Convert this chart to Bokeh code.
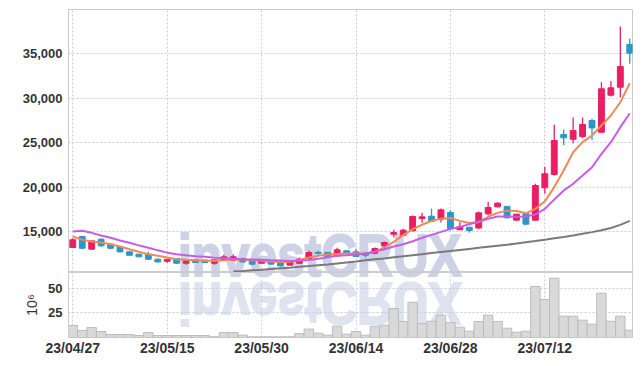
from bokeh.plotting import figure
from bokeh.models import ColumnDataSource, FixedTicker, NumeralTickFormatter, Range1d, Div
from bokeh.layouts import column
from bokeh.embed import file_html
from bokeh.resources import INLINE

dates = ["23/04/27", "23/04/28", "23/05/02", "23/05/03", "23/05/04", "23/05/08", "23/05/09", "23/05/10",
         "23/05/11", "23/05/12", "23/05/15", "23/05/16", "23/05/17", "23/05/18", "23/05/19", "23/05/22",
         "23/05/23", "23/05/24", "23/05/25", "23/05/26", "23/05/30", "23/05/31", "23/06/01", "23/06/02",
         "23/06/05", "23/06/07", "23/06/08", "23/06/09", "23/06/12", "23/06/13", "23/06/14", "23/06/15",
         "23/06/16", "23/06/19", "23/06/20", "23/06/21", "23/06/22", "23/06/23", "23/06/26", "23/06/27",
         "23/06/28", "23/06/29", "23/06/30", "23/07/03", "23/07/04", "23/07/05", "23/07/06", "23/07/07",
         "23/07/10", "23/07/11", "23/07/12", "23/07/13", "23/07/14", "23/07/17", "23/07/18", "23/07/19",
         "23/07/20", "23/07/21", "23/07/24", "23/07/25"]

opens = [13200, 14440, 13010, 14130, 13570, 13310, 12710, 12450, 12450, 11880,
         11650, 11960, 11430, 11810, 11770, 11430, 11770, 11770, 11960, 11700,
         11430, 11700, 11510, 11210, 11430, 11960, 12670, 12640, 12265, 12830,
         12710, 12520, 12560, 13390, 14700, 14590, 15080, 16460, 16720, 16350,
         17150, 15200, 15480, 15400, 16990, 17780, 17830, 16280, 17020, 16280,
         19920, 21420, 25920, 25390, 25700, 27500, 26180, 30350, 31250, 36060]
highs = [14250, 14520, 14000, 14210, 13650, 13400, 12800, 12500, 12710, 11950,
         11900, 12000, 11750, 11850, 11850, 11850, 12380, 12400, 12050, 11750,
         11800, 11750, 11550, 11550, 12070, 12830, 12830, 12680, 13160, 12880,
         13050, 12710, 13200, 13870, 15190, 15300, 16800, 17100, 17570, 17590,
         17400, 16050, 15500, 17250, 18350, 18300, 17850, 16990, 17060, 20370,
         22300, 27010, 26480, 27830, 27830, 27690, 31810, 31960, 38080, 36700]
lows = [13150, 13010, 12950, 13280, 13000, 12650, 12280, 12100, 11800, 11520,
        11480, 11380, 11250, 11470, 11470, 11250, 11700, 11700, 11520, 11200,
        11400, 11280, 11030, 11180, 11400, 11930, 12260, 12150, 12200, 12520,
        12150, 12080, 12450, 13010, 14320, 14550, 15030, 16000, 16100, 16010,
        15150, 15150, 14900, 15300, 16840, 17700, 16500, 16200, 15700, 16200,
        19250, 21270, 24730, 24950, 25500, 25310, 26100, 30200, 30120, 33880]
closes = [14070, 13120, 13950, 13390, 13120, 12710, 12330, 12150, 11880, 11580,
          11880, 11430, 11700, 11510, 11510, 11810, 12150, 12150, 11580, 11320,
          11770, 11320, 11130, 11510, 11880, 12640, 12520, 12190, 12940, 12560,
          12190, 12330, 13085, 13760, 14890, 15150, 16690, 16650, 16150, 17440,
          15330, 15520, 15110, 17100, 17700, 18190, 16540, 16950, 15830, 20180,
          21500, 25250, 25550, 26370, 27050, 26670, 31070, 31180, 33580, 35080]

volumes = [12.2, 7.1, 10.2, 6.1, 3.0, 3.0, 3.0, 2.0, 5.0, 2.0,
           2.0, 2.0, 2.0, 2.0, 2.0, 0.7, 5.0, 5.0, 2.4, 0.7,
           0.7, 0.7, 0.7, 0.7, 4.0, 8.5, 4.4, 2.4, 11.5, 3.4,
           6.1, 2.4, 11.5, 12.5, 29.4, 16.2, 35.8, 14.2, 16.5, 22.6,
           15.2, 10.5, 6.4, 16.2, 22.6, 16.2, 9.4, 5.3, 6.4, 51.8,
           38.6, 60.2, 21.6, 21.6, 17.6, 13.5, 45.0, 16.5, 21.6, 7.4]

ma_short = [14437, 14065, 13874, 13760, 13570, 13311, 13010, 12714, 12450, 12260,
            12072, 11880, 11810, 11770, 11700, 11720, 11770, 11880, 11850, 11770,
            11700, 11620, 11580, 11600, 11800, 12070, 12260, 12420, 12480, 12520,
            12520, 12520, 12710, 13200, 13840, 14590, 15270, 15760, 16200, 16450,
            16520, 16200, 15950, 16050, 16660, 17100, 17350, 17320, 17050, 17550,
            18400, 20000, 21870, 23930, 25060, 25810, 26940, 28060, 29560, 31700]
ma_mid = [15000, 15080, 14850, 14550, 14290, 13990, 13740, 13440, 13180, 12880,
          12620, 12430, 12320, 12210, 12150, 12060, 11990, 11920, 11880, 11850,
          11810, 11770, 11730, 11680, 11700, 11800, 11920, 12100, 12260, 12330,
          12410, 12520, 12710, 13010, 13310, 13570, 13910, 14290, 14620, 14960,
          15270, 15520, 15820, 16130, 16420, 16690, 16690, 16650, 16690, 16915,
          17550, 18600, 19620, 20370, 21310, 22240, 23750, 25060, 26750, 28320]
ma_long_start = 17
ma_long = [10500, 10560, 10640, 10700, 10780, 10850, 10930, 11030, 11110, 11200,
           11290, 11400, 11510, 11620, 11760, 11870, 11960, 12100, 12210, 12330,
           12450, 12570, 12690, 12800, 12920, 13040, 13160, 13280, 13400, 13510,
           13640, 13780, 13920, 14070, 14230, 14390, 14560, 14740, 14930, 15140,
           15400, 15750, 16200]

tick_idx = [0, 10, 20, 30, 40, 50]
price_ticks = [15000, 20000, 25000, 30000, 35000]
vol_ticks = [25, 50]
watermark = "investCRUX"

UP = "#e91e63"
DOWN = "#2e95c9"
FONT = "Liberation Sans"
GRID = "#c9ccdc"
TXT = "#333333"

xs = list(range(len(dates)))
x_range = Range1d(-0.456, 59.29)

p = figure(frame_width=564, frame_height=263, x_range=x_range, y_range=Range1d(10385, 40000),
           output_backend="svg", toolbar_location=None, x_axis_location=None,
           min_border_left=68, min_border_right=8, min_border_top=9, min_border_bottom=0)
p.background_fill_alpha = 0
p.border_fill_alpha = 0
p.outline_line_color = "#cccccc"
p.yaxis.ticker = FixedTicker(ticks=price_ticks)
p.yaxis.formatter = NumeralTickFormatter(format="0,0")
p.yaxis.axis_line_color = "#cccccc"
p.yaxis.major_tick_line_color = None
p.yaxis.major_tick_out = 0
p.yaxis.major_tick_in = 0
p.yaxis.minor_tick_line_color = None
p.yaxis.major_label_text_font = FONT
p.yaxis.major_label_text_font_style = "bold"
p.yaxis.major_label_text_font_size = "13px"
p.yaxis.major_label_text_color = TXT
p.yaxis.major_label_standoff = 6
p.xgrid.ticker = FixedTicker(ticks=tick_idx)
for g in (p.xgrid, p.ygrid):
    g.grid_line_color = GRID
    g.grid_line_dash = "2 2"

up = [i for i in xs if closes[i] >= opens[i]]
dn = [i for i in xs if closes[i] < opens[i]]
for idx, col in ((up, UP), (dn, DOWN)):
    src = ColumnDataSource(dict(
        x=[xs[i] for i in idx],
        high=[highs[i] for i in idx],
        low=[lows[i] for i in idx],
        top=[max(opens[i], closes[i]) for i in idx],
        bottom=[min(opens[i], closes[i]) for i in idx],
    ))
    p.segment(x0="x", y0="low", x1="x", y1="high", source=src, line_color=col, line_width=1.3)
    p.vbar(x="x", width=0.62, top="top", bottom="bottom", source=src,
           fill_color=col, line_color=col, line_width=1)

p.line(xs, ma_short, line_color="#ef8a55", line_width=2)
p.line(xs, ma_mid, line_color="#c65ce8", line_width=2)
p.line(xs[ma_long_start:], ma_long, line_color="#7a7a7a", line_width=2)

v = figure(frame_width=564, frame_height=65, x_range=x_range, y_range=Range1d(0, 66),
           output_backend="svg", toolbar_location=None,
           min_border_left=68, min_border_right=8, min_border_top=0)
v.background_fill_alpha = 0
v.border_fill_alpha = 0
v.outline_line_color = "#cccccc"
v.vbar(x=xs, top=volumes, width=1.0, fill_color="#d9d9d9", line_color="#bcbcbc", line_width=1)
v.xaxis.ticker = FixedTicker(ticks=tick_idx)
v.xaxis.major_label_overrides = {i: dates[i] for i in tick_idx}
v.yaxis.ticker = FixedTicker(ticks=vol_ticks)
for ax in (v.xaxis, v.yaxis):
    ax.axis_line_color = None
    ax.major_tick_line_color = None
    ax.major_tick_out = 0
    ax.major_tick_in = 0
    ax.minor_tick_line_color = None
    ax.major_label_text_font = FONT
    ax.major_label_text_font_style = "bold"
    ax.major_label_text_color = TXT
v.yaxis.axis_line_color = "#cccccc"
v.xaxis.major_label_text_font_size = "14px"
v.xaxis.major_label_standoff = 2
v.yaxis.major_label_text_font_size = "13px"
v.yaxis.major_label_standoff = 6
v.yaxis.axis_label = "10\u2076"
v.yaxis.axis_label_text_font = FONT
v.yaxis.axis_label_text_font_style = "normal"
v.yaxis.axis_label_text_font_size = "14px"
v.yaxis.axis_label_text_color = TXT
v.yaxis.axis_label_standoff = 5
v.xgrid.ticker = FixedTicker(ticks=tick_idx)
for g in (v.xgrid, v.ygrid):
    g.grid_line_color = GRID
    g.grid_line_dash = "2 2"

WM_STYLE = ("font-family:'Liberation Sans';font-weight:bold;font-size:59px;line-height:44px;"
            "white-space:nowrap;transform-origin:0 50%;")
mark = Div(
    text=('<div style="%scolor:#cdd2e6;-webkit-text-stroke:2px #cdd2e6;transform:scale(0.84,1);">%s</div>'
          % (WM_STYLE, watermark)),
    width=300, height=44,
    styles={"position": "absolute", "left": "173px", "top": "229px", "z-index": "-1"})
reflection = Div(
    text=('<div style="%scolor:#dfe2ef;-webkit-text-stroke:2px #dfe2ef;transform:scale(0.84,-1);">%s</div>'
          % (WM_STYLE, watermark)),
    width=300, height=44,
    styles={"position": "absolute", "left": "173px", "top": "276px", "z-index": "-1"})

layout = column(p, v, mark, reflection)
open("out.html", "w").write(file_html(layout, INLINE))
